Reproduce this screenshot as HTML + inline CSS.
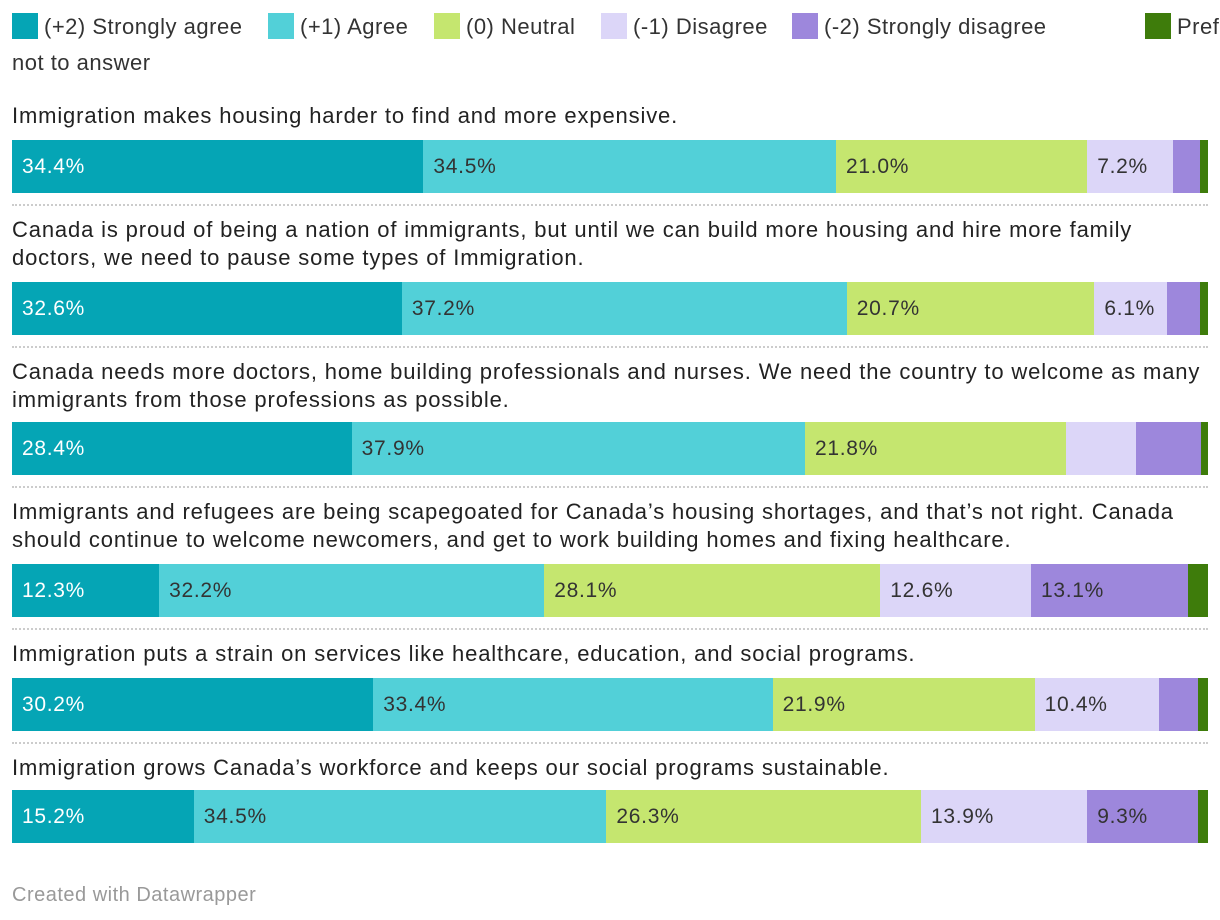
<!DOCTYPE html>
<html><head><meta charset="utf-8">
<style>
body{margin:0;width:1220px;height:920px;background:#fff;font-family:"Liberation Sans",sans-serif;color:#333;position:relative;overflow:hidden}
.leg{position:absolute;font-size:22px;letter-spacing:0.5px;color:#333;white-space:nowrap}
.sw{position:absolute;width:26px;height:26px}
.title{position:absolute;left:12px;font-size:22px;letter-spacing:0.85px;line-height:28px;color:#222;width:1210px;white-space:nowrap}
.seg{position:absolute;height:53px}
.lab{position:absolute;font-size:21px;letter-spacing:0.7px;line-height:53px;white-space:nowrap}
.sep{position:absolute;left:12px;width:1196px;border-top:2px dotted #ccc}
</style></head><body>
<div id="legend"></div>
<div id="chart"></div>
<div style="position:absolute;left:12px;top:884px;font-size:20px;letter-spacing:0.5px;color:#999">Created with Datawrapper</div>
<script>
const categories=["(+2) Strongly agree","(+1) Agree","(0) Neutral","(-1) Disagree","(-2) Strongly disagree","Prefer not to answer"];
const colors=["#05a5b5","#52d0d8","#c5e66f","#dcd6f8","#9d87dc","#3e7c0b"];
const questions=[
["Immigration makes housing harder to find and more expensive."],
["Canada is proud of being a nation of immigrants, but until we can build more housing and hire more family","doctors, we need to pause some types of Immigration."],
["Canada needs more doctors, home building professionals and nurses. We need the country to welcome as many","immigrants from those professions as possible."],
["Immigrants and refugees are being scapegoated for Canada’s housing shortages, and that’s not right. Canada","should continue to welcome newcomers, and get to work building homes and fixing healthcare."],
["Immigration puts a strain on services like healthcare, education, and social programs."],
["Immigration grows Canada’s workforce and keeps our social programs sustainable."]];
const row1=[34.4,34.5,21.0,7.2,2.2,0.7];
const row2=[32.6,37.2,20.7,6.1,2.7,0.7];
const row3=[28.4,37.9,21.8,5.9,5.4,0.6];
const row4=[12.3,32.2,28.1,12.6,13.1,1.7];
const row5=[30.2,33.4,21.9,10.4,3.3,0.8];
const row6=[15.2,34.5,26.3,13.9,9.3,0.8];
const values=[row1,row2,row3,row4,row5,row6];
const showLabel=[[1,1,1,1,0,0],[1,1,1,1,0,0],[1,1,1,0,0,0],[1,1,1,1,1,0],[1,1,1,1,0,0],[1,1,1,1,1,0]];

const lg=document.getElementById('legend');
const legX=[12,268,434,601,792,1145];
categories.forEach((c,i)=>{
  const s=document.createElement('div');s.className='sw';s.style.left=legX[i]+'px';s.style.top='13px';s.style.background=colors[i];
  
  
  lg.appendChild(s);
  const t=document.createElement('div');t.className='leg';t.style.left=(legX[i]+32)+'px';t.style.top='14px';
  t.textContent=i==5?"Prefer":c;
  
  
  lg.appendChild(t);
});
const t2=document.createElement('div');t2.className='leg';t2.style.left='12px';t2.style.top='50px';t2.textContent='not to answer';


lg.appendChild(t2);

const ch=document.getElementById('chart');
const X0=12,W=1196;
const x=v=>v/100*W;
const titleTop=[102,216,358,498,640,754];
const barTop=[140,282,422,564,678,790];
questions.forEach((q,r)=>{
  const t=document.createElement('div');t.className='title';t.style.top=titleTop[r]+'px';
  t.innerHTML=q.join('<br>');
  
  
  ch.appendChild(t);
  let acc=0;
  values[r].forEach((v,i)=>{
    const s=document.createElement('div');s.className='seg';
    s.style.left=(X0+x(acc))+'px';s.style.width=x(v)+'px';s.style.top=barTop[r]+'px';s.style.background=colors[i];
    
    
    ch.appendChild(s);
    if(showLabel[r][i]){
      const l=document.createElement('div');l.className='lab';
      l.style.left=(X0+x(acc)+10)+'px';l.style.top=barTop[r]+'px';
      l.style.color=i==0?'#fff':'#333';
      l.textContent=v.toFixed(1)+'%';
      
      
      ch.appendChild(l);
    }
    acc+=v;
  });
  if(r<5){
    const sp=document.createElement('div');sp.className='sep';sp.style.top=(barTop[r]+64)+'px';
    
    
    ch.appendChild(sp);
  }
});
</script>
</body></html>
